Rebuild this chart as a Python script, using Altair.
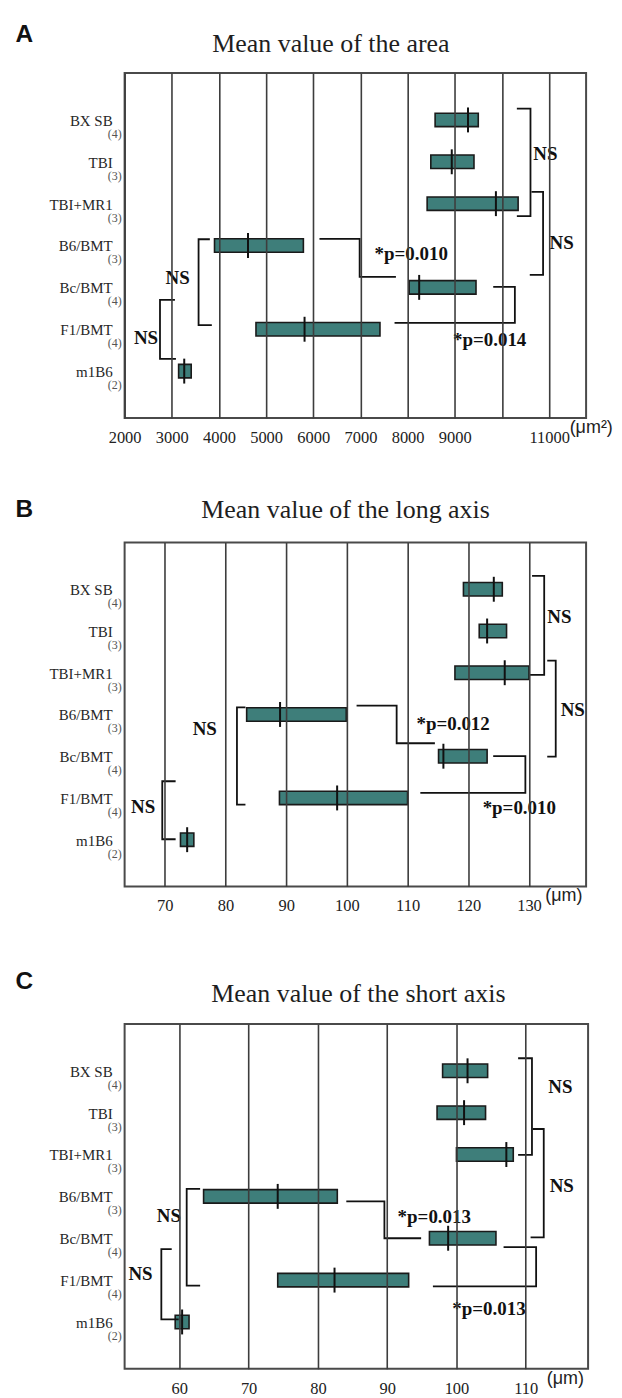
import altair as alt
import pandas as pd

# ---------------- data ----------------
groups = ["BX SB", "TBI", "TBI+MR1", "B6/BMT", "Bc/BMT", "F1/BMT", "m1B6"]
n_mice = ["(4)", "(3)", "(3)", "(3)", "(4)", "(4)", "(2)"]
row_pos = [1, 2, 3, 4, 5, 6, 7]

area_low = [8583, 8492, 8414, 3906, 8033, 4785, 3145]
area_high = [9498, 9407, 10343, 5790, 9450, 7414, 3412]
area_mean = [9280, 8936, 9872, 4616, 8245, 5815, 3264]

long_low = [119.2, 121.8, 117.8, 83.5, 115.1, 88.9, 72.6]
long_high = [125.6, 126.3, 130.0, 99.9, 123.1, 110.0, 74.8]
long_mean = [124.2, 123.1, 126.0, 89.0, 115.9, 98.4, 73.7]

short_low = [98.0, 97.2, 100.0, 63.5, 96.1, 74.2, 59.4]
short_high = [104.5, 104.2, 108.2, 82.8, 105.7, 93.1, 61.4]
short_mean = [101.6, 101.1, 107.2, 74.2, 98.8, 82.4, 60.4]

area_ticks = [2000, 3000, 4000, 5000, 6000, 7000, 8000, 9000, 10000, 11000]
long_ticks = [70, 80, 90, 100, 110, 120, 130]
short_ticks = [60, 70, 80, 90, 100, 110]

panel_letters = ["A", "B", "C"]
panel_titles = ["Mean value of the area", "Mean value of the long axis",
                "Mean value of the short axis"]
unit_labels = ["(\u03bcm\u00b2)", "(\u03bcm)", "(\u03bcm)"]

# significance brackets (x in data units, y in row units)
area_brk_x = [[10316, 10605, 10605, 10316], [10626, 10872, 10872, 10590],
              [6131, 6983, 6983, 7752], [9815, 10274, 10274, 7723],
              [3807, 3568, 3568, 3849], [3067, 2750, 2750, 3088]]
area_brk_y = [[0.73, 0.73, 3.30, 3.30], [2.72, 2.72, 4.70, 4.70],
              [3.84, 3.84, 4.75, 4.75], [4.99, 4.99, 5.85, 5.85],
              [3.85, 3.85, 5.90, 5.90], [5.30, 5.30, 6.71, 6.71]]
area_ann_text = ["NS", "NS", "*p=0.010", "*p=0.014", "NS", "NS"]
area_ann_x = [10922, 11267, 8076, 9739, 3124, 2454]
area_ann_y = [1.82, 3.94, 4.20, 6.25, 4.78, 6.21]

long_brk_x = [[130.5, 132.5, 132.5, 130.1], [133.0, 134.4, 134.4, 133.0],
              [101.6, 108.2, 108.2, 114.5], [124.1, 129.4, 129.4, 112.1],
              [83.3, 81.9, 81.9, 83.3], [71.8, 69.6, 69.6, 71.8]]
long_brk_y = [[0.68, 0.68, 3.05, 3.05], [2.71, 2.71, 5.01, 5.01],
              [3.79, 3.79, 4.69, 4.69], [5.00, 5.00, 5.88, 5.88],
              [3.83, 3.83, 6.16, 6.16], [5.60, 5.60, 6.99, 6.99]]
long_ann_text = ["NS", "NS", "*p=0.012", "*p=0.010", "NS", "NS"]
long_ann_x = [135.0, 137.2, 117.5, 128.4, 76.6, 66.45]
long_ann_y = [1.66, 3.90, 4.23, 6.25, 4.35, 6.21]

short_brk_x = [[108.9, 110.9, 110.9, 108.9], [111.0, 112.6, 112.6, 110.7],
               [84.1, 89.6, 89.6, 94.9], [106.8, 111.5, 111.5, 96.6],
               [63.0, 61.06, 61.06, 63.0], [58.9, 57.4, 57.4, 59.9]]
short_brk_y = [[0.70, 0.70, 3.01, 3.01], [2.39, 2.39, 4.98, 4.98],
               [4.12, 4.12, 5.00, 5.00], [5.21, 5.21, 6.15, 6.15],
               [3.82, 3.82, 6.13, 6.13], [5.26, 5.26, 6.94, 6.94]]
short_ann_text = ["NS", "NS", "*p=0.013", "*p=0.013", "NS", "NS"]
short_ann_x = [115.0, 115.2, 96.8, 104.7, 58.5, 54.4]
short_ann_y = [1.39, 3.76, 4.49, 6.68, 4.46, 5.86]

# ---------------- style ----------------
SERIF = "Liberation Serif"
SANS = "Liberation Sans"
TEAL = "#3e7e7a"


def make_panel(low, high, mean, domain, ticks, hidden, brk_x, brk_y,
               ann_t, ann_x, ann_y, letter, title, unit,
               width, height, letter_y, title_x, title_y, unit_x,
               top_ext, bottom_ext):
    bars = pd.DataFrame({"group": groups, "n": n_mice, "row": row_pos,
                         "low": low, "high": high, "mean": mean})
    seg_rows = []
    for i, (xs, ys) in enumerate(zip(brk_x, brk_y)):
        for k, (x, y) in enumerate(zip(xs, ys)):
            seg_rows.append({"bid": i, "k": k, "bx": x, "by": y})
    segs = pd.DataFrame(seg_rows)
    ann = pd.DataFrame({"t": ann_t, "ax": ann_x, "ay": ann_y})
    head = pd.DataFrame({"letter": [letter], "title": [title], "unit": [unit]})

    xscale = alt.Scale(domain=domain, nice=False, zero=False)
    yscale = alt.Scale(domain=[0, 8], reverse=True, nice=False, zero=False)

    axis_kw = dict(values=ticks, format="d", grid=True, gridColor="#3d3d3d",
                   gridWidth=1.6, domain=False, ticks=False, tickSize=0,
                   labelFont=SERIF, labelFontSize=16.5, labelColor="#222",
                   labelPadding=24.5, labelBaseline="alphabetic",
                   labelFlush=False, labelOverlap=False, title=None, zindex=1)
    if hidden:
        axis_kw["labelExpr"] = "(" + " || ".join(
            "datum.value == %s" % v for v in hidden) + ") ? '' : datum.label"
    axis = alt.Axis(**axis_kw)

    def X(field):
        return alt.X(field, scale=xscale, axis=axis, title=None)

    def Y(field):
        return alt.Y(field, scale=yscale, axis=None, title=None)

    guide = alt.Chart(head).mark_rule(color="white", strokeWidth=1).encode(
        x=alt.value(-115), y=alt.value(-top_ext + 0.5),
        y2=alt.value(height + bottom_ext - 0.5))
    bar = alt.Chart(bars).mark_bar(size=13.5, fill=TEAL, stroke="#1a1a1a",
                                   strokeWidth=1.6).encode(
        x=X("low:Q"), x2="high:Q", y=Y("row:Q"))
    tick = alt.Chart(bars).mark_tick(orient="vertical", size=25, thickness=2,
                                     color="#111", opacity=1).encode(
        x=X("mean:Q"), y=Y("row:Q"))
    lines = alt.Chart(segs).mark_line(color="#111", strokeWidth=1.8).encode(
        x=X("bx:Q"), y=Y("by:Q"), detail="bid:N", order="k:Q")
    notes = alt.Chart(ann).mark_text(font=SERIF, fontWeight="bold",
                                     fontSize=19, color="#111").encode(
        x=X("ax:Q"), y=Y("ay:Q"), text="t:N")
    names = alt.Chart(bars).mark_text(font=SERIF, fontSize=15, color="#262626",
                                      align="right", dy=1).encode(
        x=alt.value(-12), y=Y("row:Q"), text="group:N")
    subs = alt.Chart(bars).mark_text(font=SERIF, fontSize=12, color="#555",
                                     align="right", dy=14).encode(
        x=alt.value(-3), y=Y("row:Q"), text="n:N")
    letter_m = alt.Chart(head).mark_text(font=SANS, fontWeight="bold",
                                         fontSize=24.5, align="left",
                                         color="#111").encode(
        x=alt.value(-109.5), y=alt.value(letter_y), text="letter:N")
    title_m = alt.Chart(head).mark_text(font=SERIF, fontSize=26,
                                        color="#1e1e1e").encode(
        x=alt.value(title_x), y=alt.value(title_y), text="title:N")
    unit_m = alt.Chart(head).mark_text(font=SANS, fontSize=18, align="left",
                                       color="#222").encode(
        x=alt.value(unit_x), y=alt.value(height + 10), text="unit:N")
    return alt.layer(bar, tick, lines, notes, names, subs, letter_m,
                     title_m, unit_m, guide).properties(width=width, height=height)


pA = make_panel(area_low, area_high, area_mean, [2000, 11784], area_ticks,
                [10000], area_brk_x, area_brk_y, area_ann_text, area_ann_x,
                area_ann_y, panel_letters[0], panel_titles[0], unit_labels[0],
                463, 346, -38.3, 207, -29.3, 446.5, 61.3, 40)
pB = make_panel(long_low, long_high, long_mean, [63.4, 139.4], long_ticks,
                [], long_brk_x, long_brk_y, long_ann_text, long_ann_x,
                long_ann_y, panel_letters[1], panel_titles[1], unit_labels[1],
                463, 345, -32.3, 221.7, -32.3, 422, 83, 40)
pC = make_panel(short_low, short_high, short_mean, [52.1, 119.0], short_ticks,
                [], short_brk_x, short_brk_y, short_ann_text, short_ann_x,
                short_ann_y, panel_letters[2], panel_titles[2], unit_labels[2],
                465, 346, -41.7, 234.5, -29.7, 423.5, 95.7, 30)

chart = alt.vconcat(pA, pB, pC, spacing=0).properties(
    padding=0, background="white"
).configure_view(stroke="#4a4a4a", strokeWidth=2)

chart.save("out.html", embed_options={"renderer": "svg", "actions": False})
